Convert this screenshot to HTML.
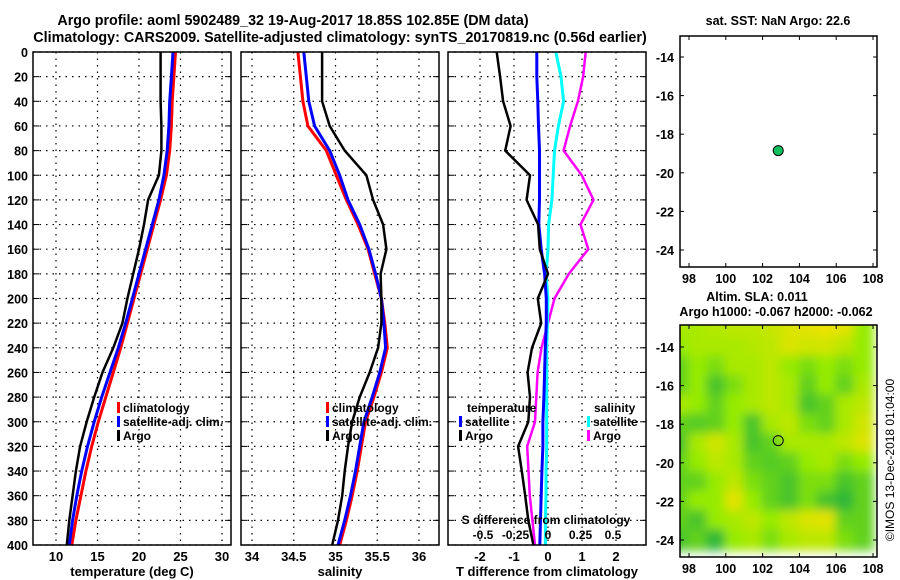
<!DOCTYPE html>
<html><head><meta charset="utf-8">
<style>
html,body{margin:0;padding:0;background:#fff;}
svg{display:block;font-family:"Liberation Sans",sans-serif;font-weight:bold;}
</style></head>
<body>
<svg id="fig" width="900" height="580" viewBox="0 0 900 580" xmlns="http://www.w3.org/2000/svg">
<defs>
<filter id="blur" x="-10%" y="-10%" width="120%" height="120%"><feGaussianBlur stdDeviation="5"/></filter>
<clipPath id="mapclip"><rect x="680" y="325" width="197" height="232"/></clipPath>
</defs>
<text x="293" y="25" font-size="14.3" text-anchor="middle">Argo profile: aoml 5902489_32 19-Aug-2017 18.85S 102.85E (DM data)</text>
<text x="340" y="42" font-size="14.3" text-anchor="middle">Climatology: CARS2009. Satellite-adjusted climatology: synTS_20170819.nc (0.56d earlier)</text>
<g id="g"></g>
</svg>
<script>
// depth levels (m)
const depths = [0,20,40,60,80,100,120,140,160,180,200,220,240,260,280,300,320,340,360,380,400];
// temperature panel
const tClim = [24.4,24.2,24.0,23.9,23.7,23.3,22.6,21.8,21.0,20.2,19.4,18.6,17.8,16.9,16.0,15.1,14.3,13.6,13.0,12.4,11.9];
const tSat  = [24.1,23.9,23.7,23.6,23.4,23.0,22.4,21.6,20.8,20.0,19.2,18.4,17.5,16.5,15.5,14.6,13.8,13.1,12.5,12.0,11.6];
const tArgo = [22.6,22.6,22.6,22.7,22.7,22.4,21.1,20.6,20.0,19.3,18.6,18.0,16.9,15.6,14.6,13.7,12.9,12.4,12.0,11.6,11.3];
// salinity panel
const sClim = [34.55,34.58,34.61,34.67,34.89,35.01,35.13,35.27,35.39,35.47,35.55,35.59,35.62,35.55,35.46,35.36,35.31,35.26,35.20,35.13,35.05];
const sSat  = [34.62,34.65,34.68,34.75,34.93,35.05,35.15,35.29,35.40,35.48,35.55,35.58,35.60,35.53,35.44,35.34,35.29,35.24,35.18,35.11,35.03];
const sArgo = [34.84,34.84,34.84,34.93,35.11,35.37,35.45,35.57,35.61,35.54,35.55,35.55,35.51,35.41,35.29,35.20,35.15,35.11,35.08,35.03,34.96];
// difference panel
const dT_sat  = [-0.33,-0.33,-0.3,-0.28,-0.25,-0.25,-0.25,-0.27,-0.2,-0.1,-0.05,-0.05,-0.08,-0.1,-0.12,-0.15,-0.15,-0.18,-0.2,-0.22,-0.24];
const dT_argo = [-1.51,-1.41,-1.32,-1.10,-1.26,-0.53,-0.63,-0.29,-0.24,0.0,-0.3,-0.2,-0.47,-0.6,-0.53,-0.58,-0.88,-0.77,-0.67,-0.58,-0.43];
const dS_sat  = [0.06,0.1,0.12,0.08,0.05,0.04,0.03,0.005,0.0,-0.015,0.0,-0.005,-0.01,-0.01,-0.01,-0.01,-0.01,-0.015,-0.015,-0.02,-0.02];
const dS_argo = [0.29,0.27,0.23,0.17,0.12,0.26,0.35,0.25,0.31,0.16,0.05,0.0,-0.05,-0.08,-0.09,-0.1,-0.16,-0.15,-0.14,-0.12,-0.1];
// tick labels
const depthTicks = [0,20,40,60,80,100,120,140,160,180,200,220,240,260,280,300,320,340,360,380,400];
const tTicks = [10,15,20,25,30];
const sTicks = [34,34.5,35,35.5,36];
const dTTicks = [-2,-1,0,1,2];
const dSTicks = [-0.5,-0.25,0,0.25,0.5];
const latTicks = [-14,-16,-18,-20,-22,-24];
const lonTicks = [98,100,102,104,106,108];
// float position
const floatLon = 102.85, floatLat = -18.85;
// SLA field (0=green .. 1=yellow), rows lat -13..-25, cols lon 97.5..108.5
const sla = [
[0.6,0.6,0.65,0.7,0.7,0.75,0.85,0.9,0.95,0.9,0.5],
[0.5,0.6,0.6,0.6,0.65,0.7,0.85,0.8,0.8,0.7,0.5],
[0.3,0.5,0.4,0.6,0.6,0.7,0.5,0.4,0.5,0.4,0.5],
[0.3,0.5,0.2,0.4,0.6,0.7,0.6,0.3,0.5,0.3,0.6],
[0.6,0.5,0.3,0.5,0.6,0.7,0.6,0.2,0.3,0.6,0.7],
[0.3,0.25,0.3,0.5,0.2,0.6,0.7,0.4,0.3,0.6,0.8],
[0.2,0.6,0.8,0.6,0.2,0.3,0.6,0.6,0.6,0.7,0.85],
[0.3,0.5,0.7,0.6,0.3,0.25,0.3,0.5,0.6,0.4,0.5],
[0.3,0.3,0.5,0.7,0.4,0.3,0.2,0.4,0.4,0.2,0.3],
[0.3,0.5,0.5,0.9,0.5,0.3,0.2,0.4,0.2,0.1,0.3],
[0.3,0.2,0.5,0.6,0.7,0.5,0.7,0.85,0.9,0.3,0.3],
[0.2,0.3,0.1,0.5,0.6,0.4,0.6,0.7,0.7,0.4,0.3]
];

const NS="http://www.w3.org/2000/svg";
const G=document.getElementById('g');
function el(tag,attrs,parent){const e=document.createElementNS(NS,tag);for(const k in attrs)e.setAttribute(k,attrs[k]);(parent||G).appendChild(e);return e;}
function txt(x,y,s,size,anchor,fill){const t=el('text',{x:x,y:y,'font-size':size,'text-anchor':anchor||'middle',fill:fill||'#000'});t.textContent=s;return t;}

const TOP=52,BOT=545;
const yD=d=>TOP+(d/400)*(BOT-TOP);
const panels=[
 {x0:33,x1:231,sx:v=>56+(v-10)*8.3,ticks:tTicks,title:'temperature (deg C)',name:'temperature'},
 {x0:241,x1:439,sx:v=>252+(v-34)*83.5,ticks:sTicks,title:'salinity',name:'salinity'},
 {x0:448,x1:646,sx:v=>548+v*34,ticks:dTTicks,title:'T difference from climatology',name:'difference'}
];
const sxS=v=>548+v*130;

panels.forEach((p,i)=>{
  const grp=el('g',{});
  
  
  depthTicks.forEach(d=>{
    const l=el('line',{x1:p.x0,x2:p.x1,y1:yD(d),y2:yD(d),stroke:'#000','stroke-width':1.2,'stroke-dasharray':'1.5,5'},grp);
    
    
    el('line',{x1:p.x0,x2:p.x0+6,y1:yD(d),y2:yD(d),stroke:'#000'},grp);
    el('line',{x1:p.x1-6,x2:p.x1,y1:yD(d),y2:yD(d),stroke:'#000'},grp);
  });
  p.ticks.forEach(v=>{
    const x=p.sx(v);
    const l=el('line',{x1:x,x2:x,y1:TOP,y2:BOT,stroke:'#000','stroke-width':1.2,'stroke-dasharray':'1.5,5'},grp);
    
    
    const t=txt(x,561,String(v),13);
    
    
  });
  const tt=txt((p.x0+p.x1)/2,576,p.title,13);
  
  
});
depthTicks.forEach(d=>{
  const t=txt(28,yD(d)+5,String(d),12.5,'end');
  
  
});

function line(xs,sx,color,w,name){
  const pts=depths.map((d,i)=>sx(xs[i]).toFixed(1)+','+yD(d).toFixed(1)).join(' ');
  const pl=el('polyline',{points:pts,fill:'none',stroke:color,'stroke-width':w,'stroke-linejoin':'round'});
  
  
}
line(tClim,panels[0].sx,'#f00',3,'temperature-climatology-line');
line(tSat,panels[0].sx,'#00f',3,'temperature-satellite-line');
line(tArgo,panels[0].sx,'#000',2.5,'temperature-argo-line');
line(sClim,panels[1].sx,'#f00',3,'salinity-climatology-line');
line(sSat,panels[1].sx,'#00f',3,'salinity-satellite-line');
line(sArgo,panels[1].sx,'#000',2.5,'salinity-argo-line');
line(dS_argo,sxS,'#f0f',2.5,'s-diff-argo-line');
line(dS_sat,sxS,'#0ff',3,'s-diff-satellite-line');
line(dT_sat,panels[2].sx,'#00f',3,'t-diff-satellite-line');
line(dT_argo,panels[2].sx,'#000',2.5,'t-diff-argo-line');

panels.forEach(p=>{
  const r=el('rect',{x:p.x0,y:TOP,width:p.x1-p.x0,height:BOT-TOP,fill:'none',stroke:'#000','stroke-width':1.5});
  
  
});

function legend(x,y,items,name){
  const lg=el('g',{});
  
  
  items.forEach((it,i)=>{
    const yy=y+i*14;
    if(it[1]) el('rect',{x:x,y:yy-10,width:3,height:11,fill:it[1]},lg);
    const t=el('text',{x:x+(it[1]?6:0),y:yy,'font-size':12},lg);
    t.textContent=it[0];
    
    
  });
}
legend(117,412,[['climatology','#f00'],['satellite-adj. clim.','#00f'],['Argo','#000']],'temperature-legend');
legend(326,412,[['climatology','#f00'],['satellite-adj. clim.','#00f'],['Argo','#000']],'salinity-legend');
legend(467,412,[['temperature',null]],'t-diff-legend-title');
legend(459,426,[['satellite','#00f'],['Argo','#000']],'t-diff-legend');
legend(594,412,[['salinity',null]],'s-diff-legend-title');
legend(587,426,[['satellite','#0ff'],['Argo','#f0f']],'s-diff-legend');
const st=txt(546,524,'S difference from climatology',12);


dSTicks.forEach(v=>{
  const t=txt(sxS(v),539,String(v),12);
  
  
});

function map(top,bot,lat14,lat24,name,heat){
  const L=680,R=877;
  const lonX=lo=>689+(lo-98)*18.4;
  const latY=la=>lat14+(la+14)/(-10)*(lat24-lat14);
  const mg=el('g',{});
  
  
  if(heat){
    const hg=el('g',{'clip-path':'url(#mapclip)'},mg);
    const inner=el('g',{filter:'url(#blur)'},hg);
    const c0=[20,170,70],c1=[150,235,0],c2=[245,225,0];
    sla.forEach((row,ri)=>row.forEach((v,ci)=>{
      let a,b,t;
      if(v<0.5){a=c0;b=c1;t=v/0.5;}else{a=c1;b=c2;t=(v-0.5)/0.5;}
      const c=a.map((q,k)=>Math.round(q+(b[k]-q)*t));
      const x=lonX(97+ci), y=latY(-12.5-ri);
      const r=el('rect',{x:x-1,y:y-1,width:lonX(98)-lonX(97)+2,height:latY(-13.5)-latY(-12.5)+2,fill:'rgb('+c.join(',')+')'},inner);
      
      
    }));
  }
  el('rect',{x:L,y:top,width:R-L,height:bot-top,fill:'none',stroke:'#000','stroke-width':1.5},mg);
  latTicks.forEach(la=>{
    const y=latY(la);
    el('line',{x1:L,x2:L+4,y1:y,y2:y,stroke:'#000'},mg);
    el('line',{x1:R-4,x2:R,y1:y,y2:y,stroke:'#000'},mg);
    const t=txt(L-6,y+5,String(la),12.5,'end');
    
    
  });
  lonTicks.forEach(lo=>{
    const x=lonX(lo);
    el('line',{x1:x,x2:x,y1:top,y2:top+4,stroke:'#000'},mg);
    el('line',{x1:x,x2:x,y1:bot-4,y2:bot,stroke:'#000'},mg);
    const t=txt(x,bot+16,String(lo),12.5);
    
    
  });
  const dot=el('circle',{cx:lonX(floatLon),cy:latY(floatLat),r:5,fill:heat?'none':'#10c060',stroke:'#000','stroke-width':1});
  
  
}
map(36,267,57,250,'sst-map',false);
map(325,557,347,540,'sla-map',true);
let t;
t=txt(778,25,'sat. SST: NaN Argo: 22.6',12.5);


t=txt(757,301,'Altim. SLA: 0.011',12.5);


t=txt(776,316,'Argo h1000: -0.067 h2000: -0.062',12.5);


t=el('text',{x:0,y:0,'font-size':12,'font-weight':'normal','text-anchor':'middle',transform:'translate(894,460) rotate(-90)'});
t.textContent='©IMOS 13-Dec-2018 01:04:00';


</script>
</body></html>
